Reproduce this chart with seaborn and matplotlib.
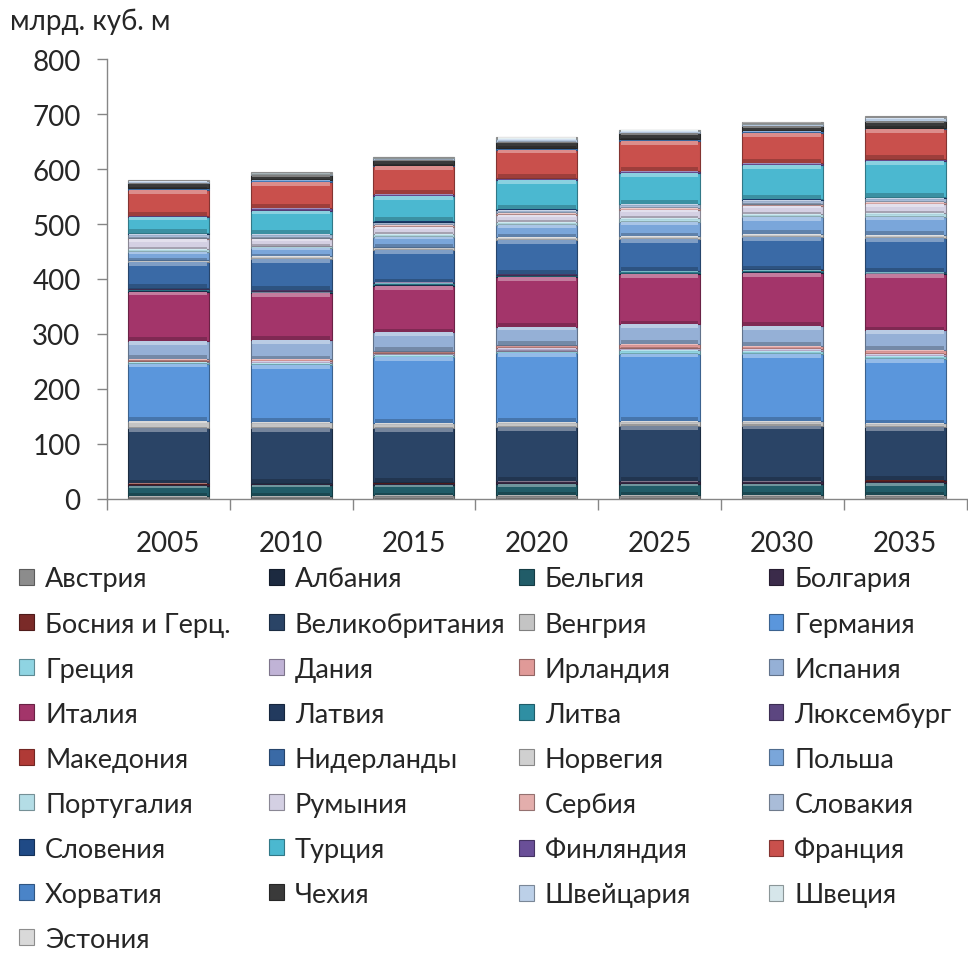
import numpy as np
import pandas as pd
import matplotlib
matplotlib.use("Agg")
import matplotlib.pyplot as plt
import matplotlib.colors as mcolors
from matplotlib.patches import Patch
import seaborn as sns

years = ["2005", "2010", "2015", "2020", "2025", "2030", "2035"]
countries = ["Австрия", "Албания", "Бельгия", "Болгария", "Босния и Герц.", "Великобритания",
             "Венгрия", "Германия", "Греция", "Дания", "Ирландия", "Испания", "Италия",
             "Латвия", "Литва", "Люксембург", "Македония", "Нидерланды", "Норвегия", "Польша",
             "Португалия", "Румыния", "Сербия", "Словакия", "Словения", "Турция", "Финляндия",
             "Франция", "Хорватия", "Чехия", "Швейцария", "Швеция", "Эстония"]

v2005 = [6, 0.2, 18, 3.5, 0.5, 100, 13, 105, 2.5, 2.5, 3, 33, 90, 1.8, 3, 1.1, 0.1, 47, 5, 14, 5,
         18, 3, 7, 1.2, 30, 2, 47, 3, 9, 3, 1, 1]
v2010 = [6, 0.2, 20, 3, 0.5, 99, 12, 103, 3.5, 3, 3.5, 35, 85, 2, 3.3, 1.5, 0.2, 56, 5, 14, 5,
         12, 2.5, 6, 1.1, 42, 5, 47, 3, 9, 3.5, 1.5, 1]
v2015 = [6.5, 0.3, 19, 4, 0.6, 99, 8.5, 120, 4, 4, 4, 33, 85, 1.8, 2.7, 1.3, 0.2, 59, 6, 18, 5,
         13, 3, 6.5, 1.2, 45, 4, 50, 3, 9, 3.5, 1.5, 1]
v2020 = [6.5, 0.4, 21, 4, 0.7, 98, 9, 125, 5, 5, 6, 33, 90, 1.8, 2.7, 1.3, 0.2, 61, 5, 22, 6,
         13, 3, 6.5, 1.2, 52, 5, 51, 3.5, 10.5, 4.5, 2, 1.5]
v2025 = [6.5, 0.5, 21, 4.5, 0.8, 100, 9, 122, 6, 5, 6, 36, 92, 1.8, 2.7, 1.3, 0.2, 58, 4, 27, 6,
         15, 3.5, 7, 1.3, 55, 4, 55, 3.5, 10.5, 3.5, 1.5, 1]
v2030 = [6.5, 0.5, 21, 4.5, 0.9, 100, 9, 121, 5, 4, 6, 36, 97, 1.8, 2.7, 1.3, 0.2, 59, 6, 30, 6,
         15, 3.5, 7.5, 1.3, 61, 4, 55, 3, 9, 4.5, 2, 1.5]
v2035 = [6.5, 0.5, 22, 4.5, 1, 96, 7, 117, 5, 4, 7, 36, 102, 1.6, 2.2, 1.0, 0.2, 61, 6, 33, 6,
         16, 4, 8, 1.4, 65, 5, 53, 3.5, 11.5, 5, 2.5, 1.5]

colors = ["#8c8c8c", "#1c2a40", "#215c68", "#3b2b4a", "#7a2a28", "#2a4466",
          "#c4c4c4", "#5a96dc", "#8fd4e2", "#c0b3d6", "#e09a98", "#95b0d6", "#a3356a",
          "#223a5e", "#2f8fa3", "#5c4680", "#b03a36", "#3a6aa6", "#d0d0d0", "#7aa6da",
          "#b4dde6", "#d4d0e3", "#e3aeac", "#a9bcd8", "#1f4a86", "#4bb8d0", "#6a4f98",
          "#c9504c", "#4a84c8", "#3a3a3a", "#bcd0e8", "#d6e6ea", "#d9d9d9"]

yticks = [0, 100, 200, 300, 400, 500, 600, 700, 800]
y_unit = "млрд. куб. м"

# ---- build data ----
yearly = [v2005, v2010, v2015, v2020, v2025, v2030, v2035]
rows = []
for yi, y in enumerate(years):
    for ci, c in enumerate(countries):
        rows.append({"year": y, "country": c, "value": yearly[yi][ci]})
df = pd.DataFrame(rows)

FONT = ["Lato", "Open Sans", "DejaVu Sans"]
sns.set_style("white")
plt.rcParams["font.family"] = FONT

fig = plt.figure(figsize=(9.68, 9.54), dpi=100)
ax = fig.add_axes([0.1105, 0.4759, 0.888, 0.4612])

W = 0.66


def shade(col, f):
    r, g, b = mcolors.to_rgb(col)
    if f > 0:
        return (r + (1 - r) * f, g + (1 - g) * f, b + (1 - b) * f)
    return (r * (1 + f), g * (1 + f), b * (1 + f))


bottom = np.zeros(len(years))
for ci, c in enumerate(countries):
    sub = df[df["country"] == c]
    vals = sub["value"].to_numpy()
    sns.barplot(data=sub, x="year", y="value", order=years, color=colors[ci],
                saturation=1, width=W, bottom=bottom.copy(), ax=ax,
                edgecolor=shade(colors[ci], -0.35), linewidth=0.8, errorbar=None)
    # bevel: lighter top band, darker bottom band
    band = np.minimum(vals * 0.25, 7.0)
    xs = np.arange(len(years))
    ax.bar(xs, band, bottom=bottom + vals - band, width=W * 0.96,
           color=shade(colors[ci], 0.35), linewidth=0, zorder=3)
    ax.bar(xs, band, bottom=bottom, width=W * 0.96,
           color=shade(colors[ci], -0.22), linewidth=0, zorder=3)
    bottom = bottom + vals

ax.set_xlim(-0.5, len(years) - 0.5)
ax.set_ylim(0, 800)
ax.set_yticks(yticks)
ax.set_xlabel("")
ax.set_ylabel("")
for s in ["top", "right"]:
    ax.spines[s].set_visible(False)
for s in ["left", "bottom"]:
    ax.spines[s].set_color("#868686")
    ax.spines[s].set_linewidth(1.0)

ax.tick_params(axis="y", which="major", length=7, width=1, color="#868686",
               direction="out", left=True, labelsize=20, pad=12)
ax.tick_params(axis="x", which="major", length=0, labelsize=20, pad=22)
ax.set_xticks(np.arange(-0.5, len(years), 1.0), minor=True)
ax.tick_params(axis="x", which="minor", length=8, width=1, color="#868686",
               direction="out", bottom=True)

fig.text(0.010, 1 - 22 / 954, y_unit, fontsize=20, va="center", ha="left")

# legend: 4 fixed columns, row-major order
handles = [Patch(facecolor=colors[i], edgecolor=shade(colors[i], -0.35), linewidth=0.8)
           for i in range(len(countries))]
col_x = [0.020, 0.278, 0.536, 0.794]
for k in range(4):
    idx = list(range(k, len(countries), 4))
    leg = fig.legend([handles[i] for i in idx], [countries[i] for i in idx],
                     loc="upper left", bbox_to_anchor=(col_x[k], 1 - 567.5 / 954),
                     frameon=False, fontsize=19.5, handlelength=0.55, handleheight=0.55,
                     handletextpad=0.4, labelspacing=0.74, borderaxespad=0, borderpad=0)

fig.savefig("out.png", dpi=100)
